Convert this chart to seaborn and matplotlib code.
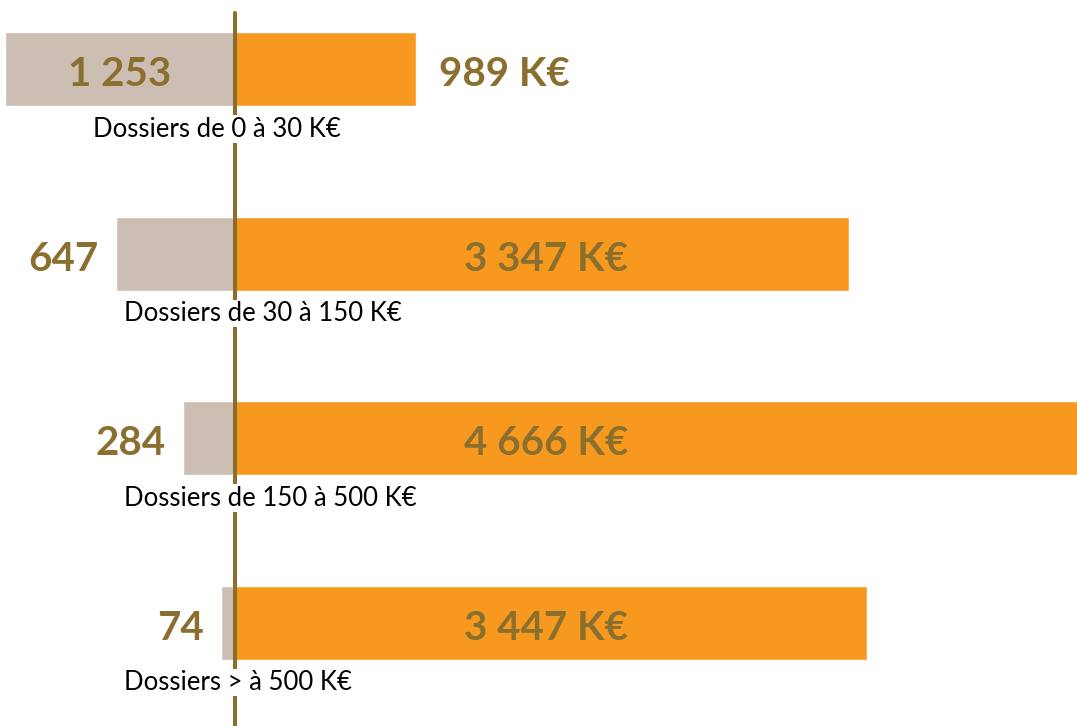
import pandas as pd
import numpy as np
import matplotlib.pyplot as plt
import seaborn as sns

# data
categories = ["Dossiers de 0 à 30 K€", "Dossiers de 30 à 150 K€",
              "Dossiers de 150 à 500 K€", "Dossiers > à 500 K€"]
nb_dossiers = [1253, 647, 284, 74]
montants = [989, 3347, 4666, 3447]  # K€

count_labels = ["1 253", "647", "284", "74"]
amount_labels = ["989 K€", "3 347 K€", "4 666 K€", "3 447 K€"]

GREY = "#CDBEB4"
ORANGE = "#F7991F"
BROWN = "#8B6D2E"
TXT = "#8B6F2E"

sns.set_style("white")
plt.rcParams["font.family"] = ["Lato", "DejaVu Sans"]

df = pd.DataFrame({"cat": categories, "left": [-v for v in nb_dossiers], "right": montants})

fig = plt.figure(figsize=(10.77, 7.26), dpi=100)
ax = fig.add_axes([0, 0, 1, 1])

sns.barplot(data=df, y="cat", x="left", color=GREY, orient="h", width=0.4,
            saturation=1, ax=ax)
sns.barplot(data=df, y="cat", x="right", color=ORANGE, orient="h", width=0.4,
            saturation=1, ax=ax)

ax.set_xlim(-1281, 4589)
ax.set_ylim(3.56, -0.375)

# center line
ax.axvline(0, ymin=0, ymax=0.982, color=BROWN, lw=2.9, zorder=3)

vy = 0.012  # small nudge down for the big numbers
for i, (n, m) in enumerate(zip(nb_dossiers, montants)):
    # counts on the left
    if n > 1000:
        ax.text(-n / 2, i + vy, count_labels[i], ha="center", va="center_baseline",
                fontsize=29, fontweight="bold", color=TXT)
    else:
        ax.text(-n - 95, i + vy, count_labels[i], ha="right", va="center_baseline",
                fontsize=29, fontweight="bold", color=TXT)
    # amounts on the right
    if m < 1500:
        ax.text(m + 125, i + vy, amount_labels[i], ha="left", va="center_baseline",
                fontsize=29, fontweight="bold", color=TXT)
    else:
        ax.text(1695, i + vy, amount_labels[i], ha="center", va="center_baseline",
                fontsize=29, fontweight="bold", color=TXT)
    # category label under the bar, white box hides the line
    x0 = -774 if i == 0 else -605
    ax.text(x0, i + 0.325, categories[i], ha="left", va="center",
            fontsize=18.5, color="black", zorder=4,
            bbox=dict(facecolor="white", edgecolor="none", pad=1))

ax.set_xlabel("")
ax.set_ylabel("")
ax.set_xticks([])
ax.set_yticks([])
sns.despine(left=True, bottom=True)

fig.savefig("out.png", dpi=100)
